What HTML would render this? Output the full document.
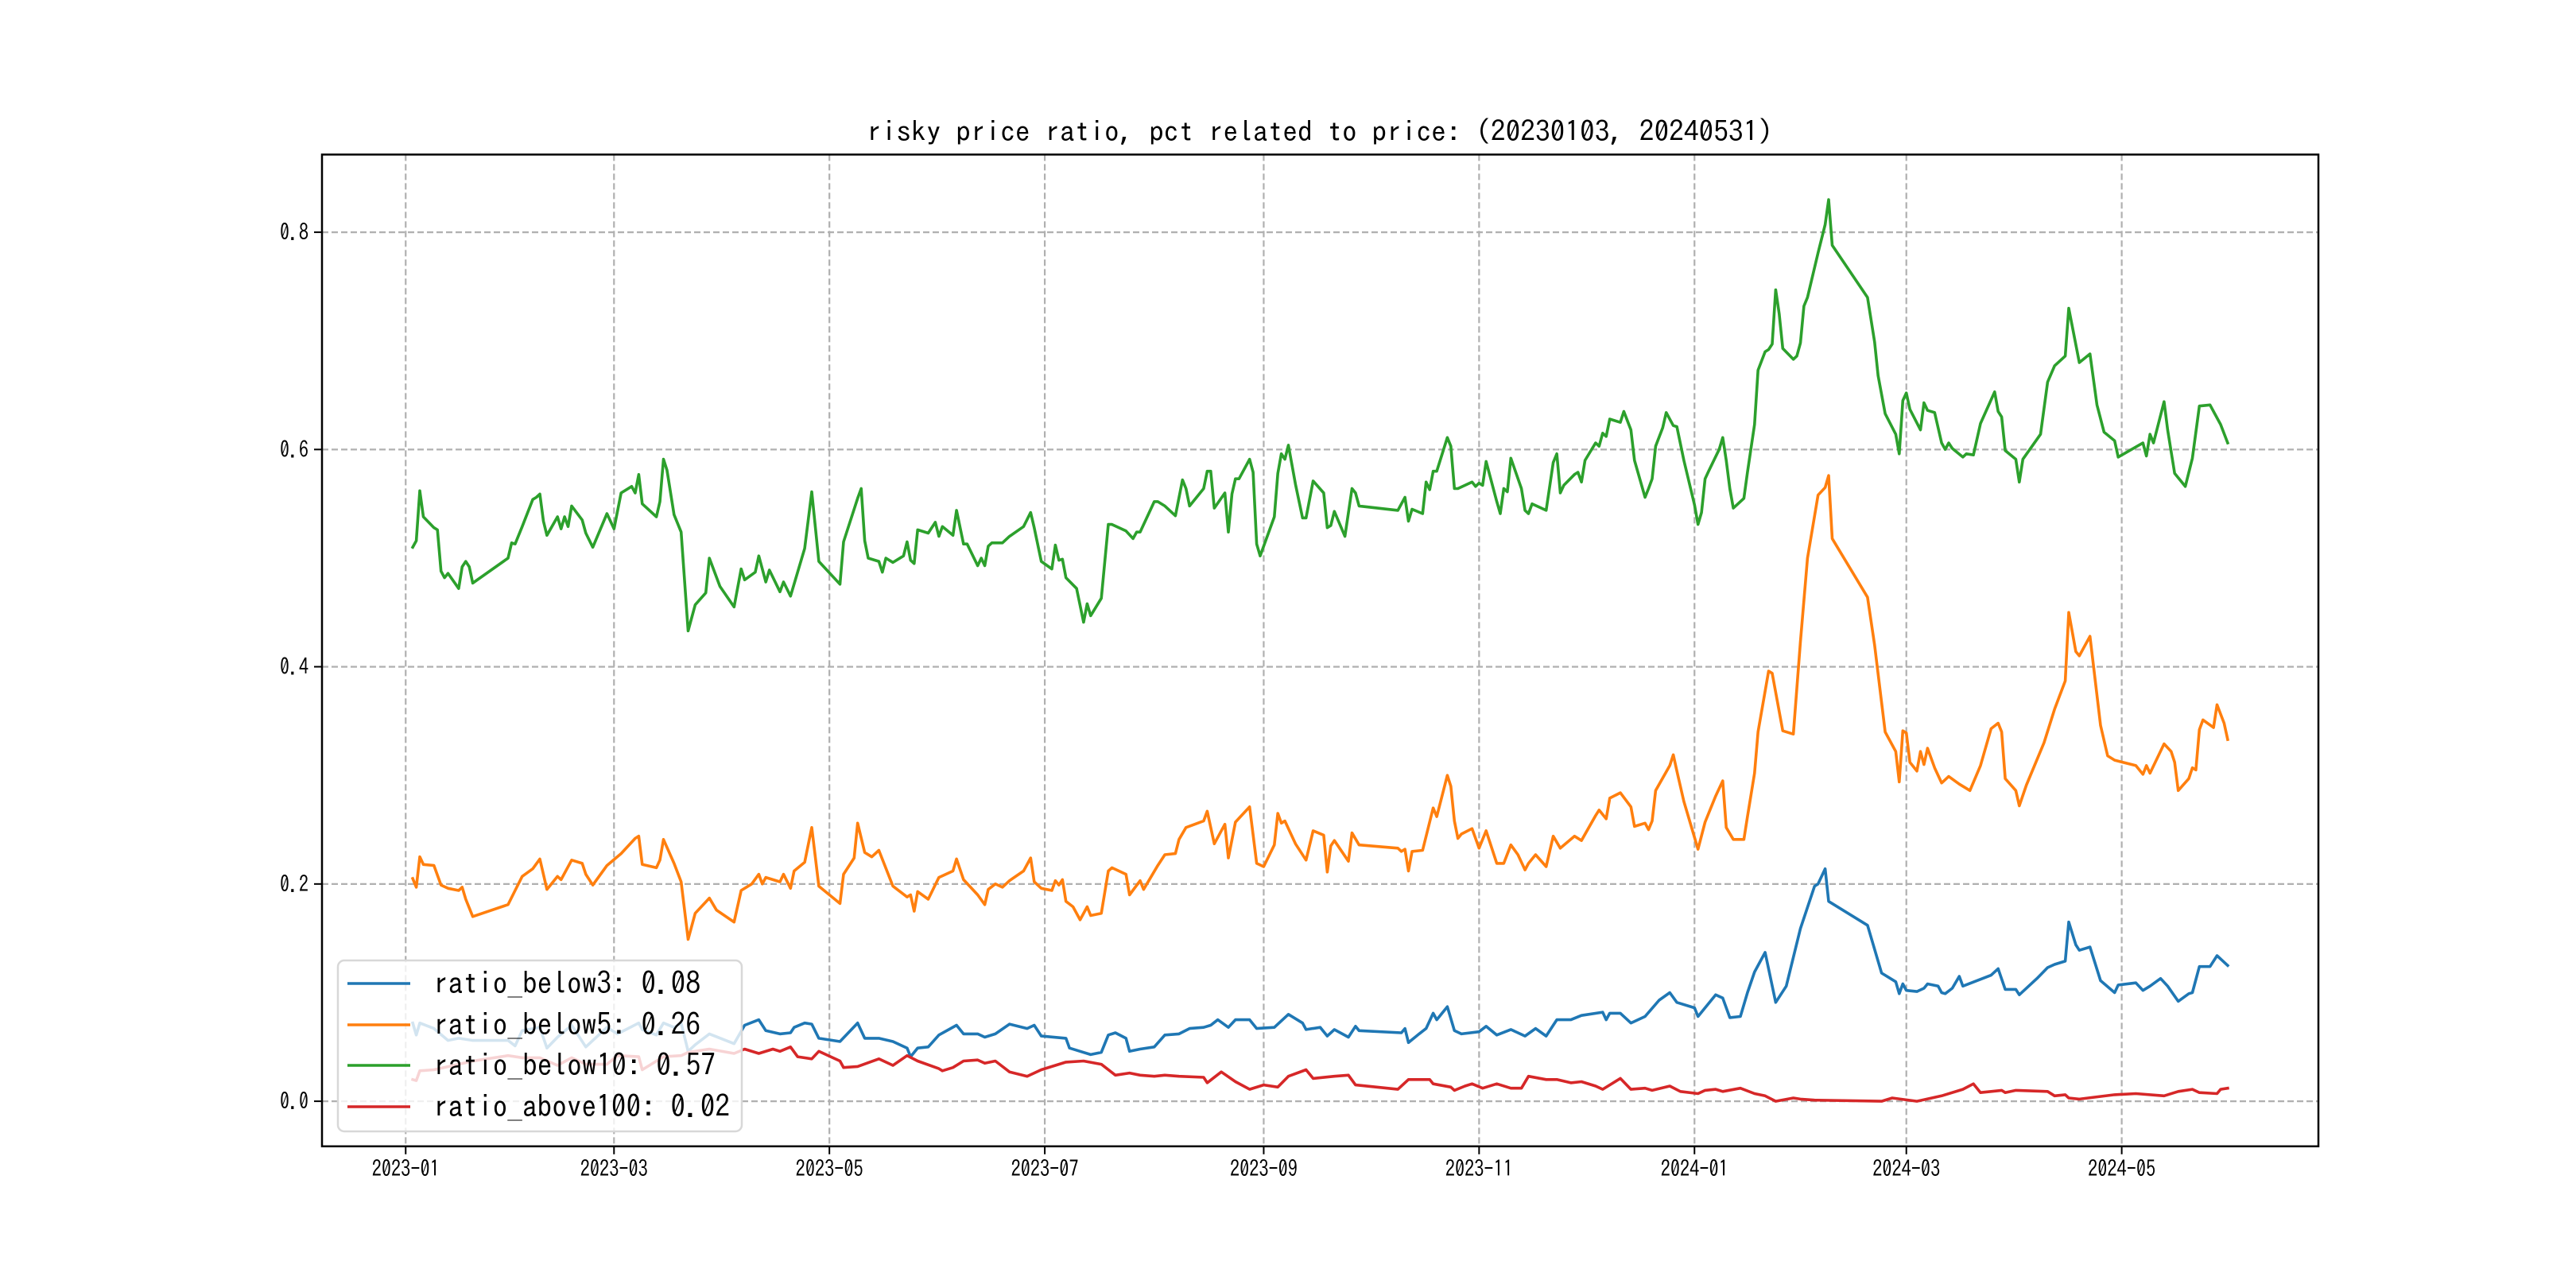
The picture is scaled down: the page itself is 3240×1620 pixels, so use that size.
<!DOCTYPE html>
<html><head><meta charset="utf-8"><style>
html,body{margin:0;padding:0;background:#fff;}
svg{display:block;font-family:"IPAGothic","Liberation Sans","Noto Sans CJK JP",sans-serif;}
</style></head><body>
<svg id="chart" width="3240" height="1620" viewBox="0 0 3240 1620" xmlns="http://www.w3.org/2000/svg">
<rect x="0" y="0" width="3240" height="1620" fill="#fff"/>
<text x="1660" y="178" font-size="36" text-anchor="middle" textLength="1140" lengthAdjust="spacingAndGlyphs">risky price ratio, pct related to price: (20230103, 20240531)</text>
<g id="grid"></g>
<g id="series"></g>
<rect x="405" y="194.4" width="2511" height="1247.4" fill="none" stroke="#000" stroke-width="2.5"/>
<g id="ticks"></g>
<g id="legend"></g>
</svg>
<script>
// days since 2023-01-01
const greenDays=[2,3,4,5,8,9,10,11,12,15,16,17,18,19,29,30,31,33,36,37,38,39,40,43,44,45,46,47,50,51,53,57,59,61,64,65,66,67,71,72,73,74,76,78,80,82,85,86,89,93,95,96,99,100,102,103,106,107,109,113,115,117,123,124,128,129,130,131,134,135,136,138,141,142,143,144,145,148,150,151,152,155,156,158,159,162,163,164,165,166,169,171,175,177,178,180,183,184,185,186,187,190,192,193,194,197,199,200,204,206,207,208,212,213,215,218,220,221,222,226,227,228,229,232,233,234,235,236,239,240,241,242,246,247,248,249,250,252,254,255,257,260,261,262,263,266,268,269,270,281,283,284,285,288,289,290,291,292,295,296,297,298,300,302,303,304,305,306,309,310,311,312,313,316,317,318,319,323,325,326,327,328,331,332,333,334,337,338,339,340,341,344,345,347,348,351,352,353,354,356,357,359,360,362,365,366,367,368,369,372,373,374,375,376,379,380,382,383,385,386,387,388,389,390,393,394,395,396,397,400,402,403,404,414,416,417,419,422,423,424,425,426,429,430,431,433,435,436,437,438,441,442,444,446,450,451,452,453,456,457,458,463,465,467,470,471,474,477,479,481,484,485,492,493,494,495,498,499,501,504,506,508,511,512,514,516];
const greenVals=[.51,.516,.562,.538,.528,.526,.488,.482,.486,.472,.492,.497,.492,.477,.5,.514,.513,.529,.554,.556,.559,.534,.521,.538,.527,.538,.529,.548,.535,.523,.51,.541,.527,.56,.566,.56,.577,.55,.538,.552,.591,.581,.54,.524,.433,.457,.468,.5,.474,.455,.49,.48,.487,.502,.478,.489,.469,.478,.465,.509,.561,.497,.476,.515,.555,.564,.516,.5,.497,.487,.5,.496,.502,.515,.498,.495,.526,.523,.533,.52,.529,.521,.544,.513,.513,.493,.5,.493,.511,.514,.514,.52,.529,.542,.528,.497,.49,.512,.498,.499,.482,.472,.441,.458,.447,.463,.531,.531,.525,.518,.524,.524,.552,.552,.548,.539,.572,.564,.548,.564,.58,.58,.546,.56,.524,.559,.573,.573,.591,.579,.513,.502,.538,.578,.596,.591,.604,.568,.537,.537,.571,.56,.528,.53,.543,.52,.564,.56,.548,.544,.556,.534,.545,.541,.57,.563,.58,.58,.611,.603,.564,.564,.567,.57,.566,.569,.567,.589,.552,.541,.564,.561,.592,.564,.544,.541,.55,.544,.588,.596,.56,.567,.577,.579,.57,.59,.606,.603,.615,.612,.628,.625,.635,.618,.59,.556,.564,.573,.603,.62,.634,.622,.621,.59,.549,.531,.542,.573,.58,.6,.611,.59,.564,.546,.555,.579,.623,.673,.69,.692,.697,.747,.725,.693,.683,.686,.698,.732,.74,.781,.807,.83,.788,.74,.699,.668,.633,.614,.596,.645,.652,.637,.618,.643,.636,.634,.606,.6,.606,.601,.593,.596,.595,.624,.653,.635,.63,.599,.591,.57,.591,.614,.662,.677,.686,.73,.68,.688,.641,.616,.608,.593,.606,.594,.614,.606,.644,.618,.578,.566,.592,.64,.641,.635,.623,.606];
const orangeDays=[2,3,4,5,8,10,12,15,16,17,19,29,31,33,36,38,40,43,44,47,50,51,53,57,61,65,66,67,71,72,73,76,78,80,82,86,88,93,95,98,100,101,102,106,107,109,110,113,115,117,123,124,127,128,130,132,134,138,142,143,144,145,148,151,155,156,158,162,164,165,167,169,171,175,177,178,180,183,184,185,186,187,189,191,193,194,197,199,200,204,205,208,209,213,215,218,219,221,226,227,229,232,233,235,239,241,243,246,247,248,249,252,255,257,260,261,262,263,267,268,270,281,282,283,284,285,288,291,292,295,296,297,298,299,302,304,306,309,311,313,315,317,318,320,323,325,327,331,333,337,338,340,341,344,347,348,351,352,353,354,358,359,360,362,366,368,371,373,374,376,379,380,382,383,386,387,390,393,395,397,400,402,403,404,414,416,419,422,423,424,425,426,428,429,430,431,433,435,436,437,440,443,446,449,451,452,453,456,457,459,464,467,470,471,473,474,477,480,482,484,490,492,493,494,498,500,501,502,505,506,507,508,509,512,513,515,516];
const orangeVals=[.205,.197,.225,.218,.217,.199,.196,.194,.197,.186,.17,.181,.194,.207,.214,.223,.195,.207,.204,.222,.219,.209,.199,.217,.228,.242,.244,.218,.215,.222,.241,.219,.202,.149,.173,.187,.176,.165,.194,.2,.209,.2,.206,.202,.209,.196,.212,.22,.252,.198,.182,.209,.224,.256,.229,.225,.231,.198,.188,.19,.175,.193,.186,.206,.212,.223,.204,.19,.181,.195,.2,.197,.203,.212,.224,.202,.196,.194,.203,.199,.204,.184,.179,.167,.179,.171,.173,.212,.215,.209,.19,.203,.195,.217,.227,.228,.241,.252,.258,.267,.237,.255,.224,.257,.271,.219,.216,.236,.265,.256,.258,.237,.222,.249,.245,.211,.235,.24,.221,.247,.236,.233,.23,.232,.212,.23,.231,.27,.262,.3,.29,.258,.242,.246,.251,.233,.249,.219,.219,.236,.227,.213,.219,.227,.216,.244,.233,.244,.24,.263,.268,.26,.279,.284,.271,.253,.256,.25,.258,.286,.309,.319,.304,.276,.232,.257,.281,.295,.252,.241,.241,.262,.302,.34,.396,.394,.341,.338,.423,.5,.558,.565,.576,.518,.464,.42,.34,.322,.294,.341,.339,.312,.304,.322,.31,.325,.307,.293,.296,.299,.292,.286,.309,.343,.348,.34,.297,.286,.272,.291,.33,.361,.387,.45,.414,.41,.428,.346,.318,.314,.309,.301,.309,.302,.329,.322,.312,.286,.297,.307,.305,.342,.351,.344,.365,.348,.333];
const blueDays=[2,3,4,8,12,15,19,29,31,33,38,40,43,47,51,57,60,66,67,71,73,76,78,80,82,86,93,96,100,102,106,109,110,113,115,117,123,128,130,134,138,142,143,145,148,151,156,158,162,164,167,171,176,178,180,187,188,191,194,197,199,201,204,205,208,212,215,219,222,226,228,230,233,235,239,241,246,250,254,255,259,261,263,267,269,270,282,283,284,287,289,291,292,295,297,299,304,306,309,313,317,320,323,326,330,333,339,340,341,344,347,351,355,358,360,365,366,371,373,375,378,380,382,385,388,391,395,399,400,402,403,414,418,422,423,424,425,428,430,431,434,435,436,438,440,441,449,451,453,456,457,462,465,467,470,471,473,474,477,480,484,485,490,492,494,497,499,502,505,506,508,511,513,516];
const blueVals=[.072,.061,.072,.067,.056,.058,.056,.056,.051,.065,.068,.049,.059,.07,.05,.068,.062,.072,.066,.061,.072,.068,.072,.046,.052,.062,.053,.07,.075,.065,.062,.063,.068,.072,.071,.058,.055,.072,.058,.058,.055,.049,.041,.049,.05,.061,.07,.062,.062,.059,.062,.071,.067,.07,.06,.058,.049,.046,.043,.045,.061,.063,.058,.046,.048,.05,.061,.062,.067,.068,.07,.075,.068,.075,.075,.067,.068,.08,.072,.066,.068,.06,.066,.059,.069,.065,.063,.067,.054,.062,.067,.081,.075,.087,.065,.062,.064,.069,.061,.066,.06,.067,.06,.075,.075,.079,.082,.075,.081,.081,.072,.078,.093,.1,.091,.086,.078,.098,.095,.077,.078,.1,.119,.137,.091,.106,.159,.198,.2,.214,.184,.162,.118,.11,.099,.108,.102,.101,.104,.108,.106,.1,.099,.104,.115,.106,.116,.122,.103,.103,.098,.113,.123,.126,.129,.165,.144,.139,.142,.111,.1,.107,.109,.102,.106,.113,.106,.092,.099,.1,.124,.124,.134,.125];
const redDays=[2,3,4,8,15,19,29,33,38,43,47,51,57,60,66,67,73,78,80,86,93,96,100,104,106,109,111,115,117,123,124,128,134,138,142,145,151,152,155,158,162,164,167,171,176,180,187,192,197,201,205,208,212,215,219,226,227,231,235,239,243,247,250,255,257,263,267,269,281,284,290,291,296,297,300,302,305,309,313,316,318,323,326,330,333,337,339,344,347,351,353,358,361,366,368,371,373,378,382,385,388,393,395,399,418,421,428,435,441,444,446,452,453,456,465,467,470,471,474,484,490,498,502,506,508,513,514,516];
const redVals=[.02,.019,.028,.029,.034,.037,.042,.04,.04,.033,.04,.034,.034,.042,.041,.029,.041,.042,.045,.048,.044,.048,.044,.048,.046,.05,.041,.039,.046,.037,.031,.032,.039,.033,.042,.037,.03,.028,.031,.037,.038,.035,.037,.027,.023,.029,.036,.037,.034,.024,.026,.024,.023,.024,.023,.022,.017,.027,.018,.011,.015,.013,.023,.029,.021,.023,.024,.015,.011,.02,.02,.016,.013,.01,.014,.016,.012,.016,.012,.012,.023,.02,.02,.017,.018,.014,.011,.021,.011,.012,.01,.014,.009,.007,.01,.011,.009,.012,.007,.005,0,.003,.002,.001,0,.003,0,.005,.011,.016,.008,.01,.008,.01,.009,.005,.006,.003,.002,.006,.007,.005,.009,.011,.008,.007,.011,.012];
const xTickDays=[0,59,120,181,243,304,365,425,486];
const xTickLabels=["2023-01","2023-03","2023-05","2023-07","2023-09","2023-11","2024-01","2024-03","2024-05"];
const yTickVals=[0,0.2,0.4,0.6,0.8];
const yTickLabels=["0.0","0.2","0.4","0.6","0.8"];
const legendLabels=["ratio_below3: 0.08","ratio_below5: 0.26","ratio_below10: 0.57","ratio_above100: 0.02"];

const NS="http://www.w3.org/2000/svg";
const L=405,R=2916,T=194.4,B=1441.8;
const x0=-23.7,x1=541.7,y0=-0.0415,y1=0.8715;
function sx(d){return L+(d-x0)/(x1-x0)*(R-L);}
function sy(v){return B-(v-y0)/(y1-y0)*(B-T);}
function mk(tag,attrs,parent){const e=document.createElementNS(NS,tag);for(const k in attrs)e.setAttribute(k,attrs[k]);parent.appendChild(e);return e;}

const grid=document.getElementById('grid');
const ticks=document.getElementById('ticks');
xTickDays.forEach((d,i)=>{
  const X=sx(d);
  const gl=mk('line',{x1:X,x2:X,y1:T,y2:B,stroke:'#b0b0b0','stroke-width':2.2,'stroke-dasharray':'8,4'},grid);
  
  
  const tk=mk('line',{x1:X,x2:X,y1:B,y2:B+10,stroke:'#000','stroke-width':2},ticks);
  
  
  const tl=mk('text',{x:X,y:B+38,'font-size':28,'text-anchor':'middle',textLength:85,lengthAdjust:'spacingAndGlyphs'},ticks);
  tl.textContent=xTickLabels[i];
  
  
});
yTickVals.forEach((v,i)=>{
  const Y=sy(v);
  const gl=mk('line',{x1:L,x2:R,y1:Y,y2:Y,stroke:'#b0b0b0','stroke-width':2.2,'stroke-dasharray':'8,4'},grid);
  
  
  const tk=mk('line',{x1:L-10,x2:L,y1:Y,y2:Y,stroke:'#000','stroke-width':2},ticks);
  
  
  const tl=mk('text',{x:L-17,y:Y+10,'font-size':28,'text-anchor':'end',textLength:36,lengthAdjust:'spacingAndGlyphs'},ticks);
  tl.textContent=yTickLabels[i];
  
  
});

const series=document.getElementById('series');
const seriesDefs=[[blueDays,blueVals,'#1f77b4','line-ratio-below3'],[orangeDays,orangeVals,'#ff7f0e','line-ratio-below5'],[greenDays,greenVals,'#2ca02c','line-ratio-below10'],[redDays,redVals,'#d62728','line-ratio-above100']];
seriesDefs.forEach(s=>{
  const pts=s[0].map((d,i)=>sx(d).toFixed(1)+','+sy(s[1][i]).toFixed(1)).join(' ');
  const pl=mk('polyline',{points:pts,fill:'none',stroke:s[2],'stroke-width':3.6,'stroke-linejoin':'round','stroke-linecap':'square'},series);
  
  
});

const lg=document.getElementById('legend');


const box=mk('rect',{x:425,y:1208,width:508,height:215,rx:8,fill:'#fff','fill-opacity':0.8,stroke:'#d8d8d8','stroke-width':2.5},lg);


const rowY=[1237,1289,1340,1392];
const rowW=[336,336,355,373];
legendLabels.forEach((lab,i)=>{
  const ln=mk('line',{x1:437,x2:516,y1:rowY[i],y2:rowY[i],stroke:seriesDefs[i][2],'stroke-width':3.6},lg);
  
  
  const t=mk('text',{x:545,y:rowY[i]+13,'font-size':38,textLength:rowW[i],lengthAdjust:'spacingAndGlyphs'},lg);
  t.textContent=lab;
  
  
});
</script>
</body></html>
